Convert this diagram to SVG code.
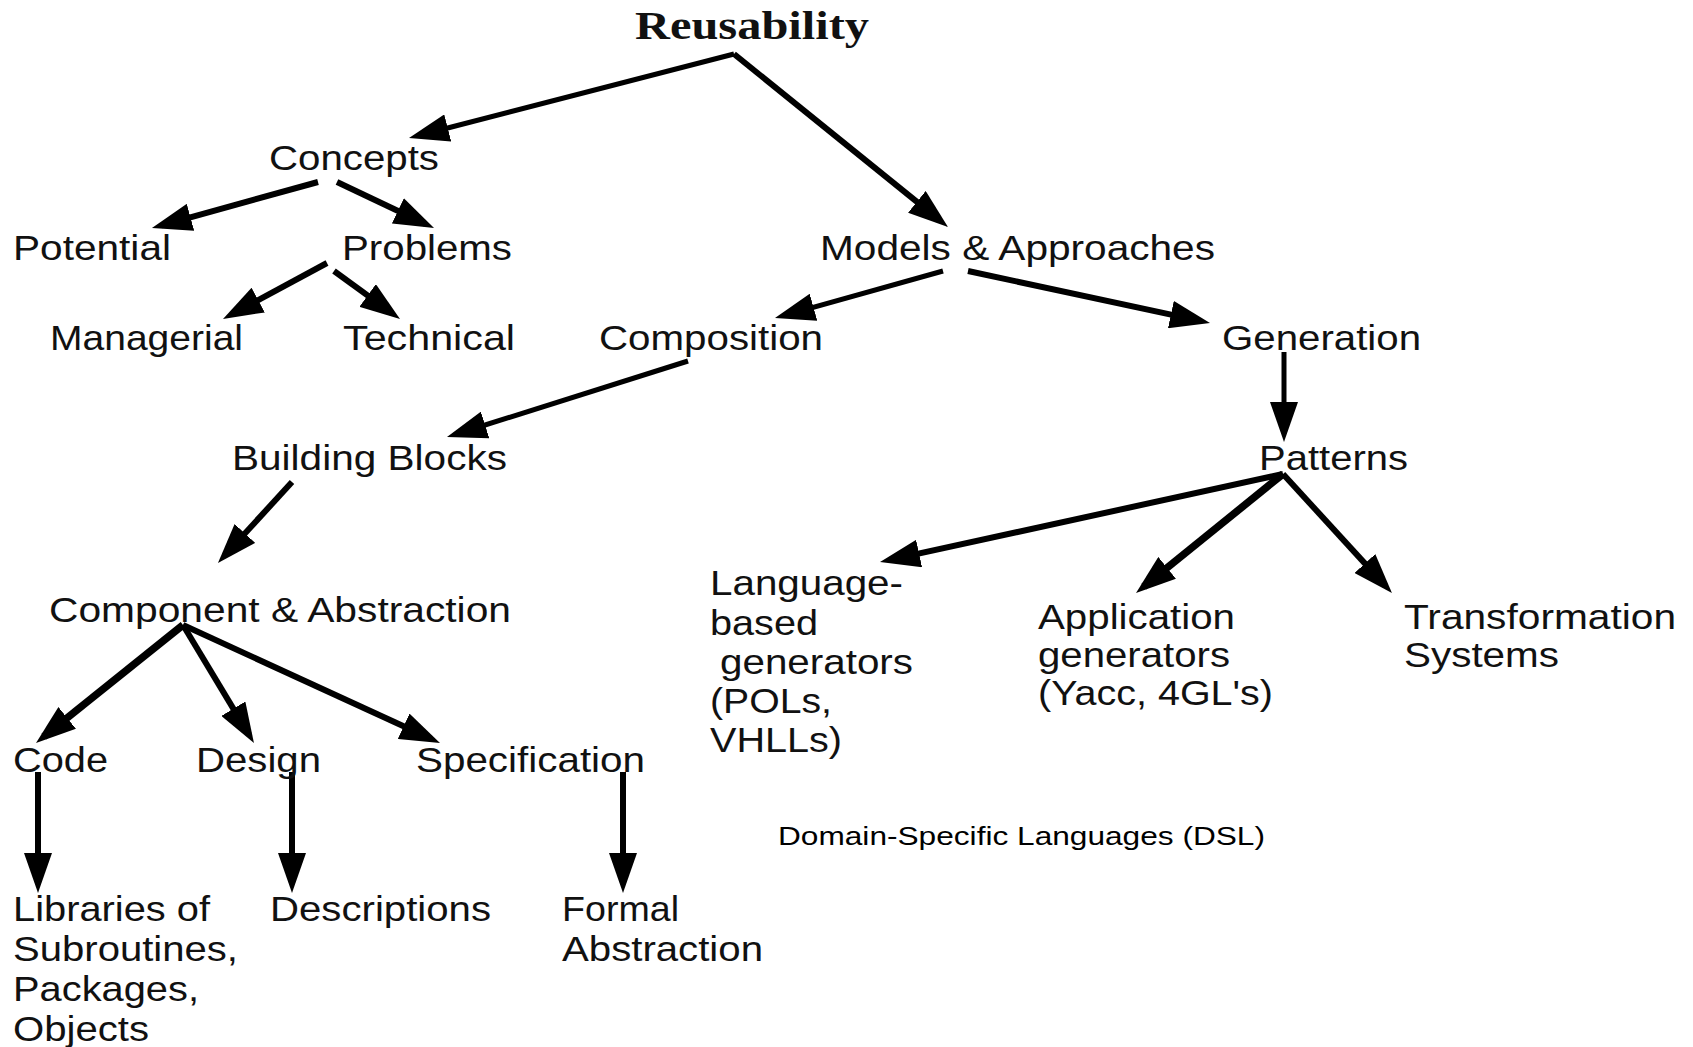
<svg xmlns="http://www.w3.org/2000/svg" width="1693" height="1047" viewBox="0 0 1693 1047">
  <style>
    .lbl { font-family: "Liberation Sans", Arial, Helvetica, sans-serif; font-size: 35px; fill: #111; }
    .title { font-family: "Liberation Serif", "Times New Roman", serif; font-size: 39px; font-weight: bold; fill: #111; }
    .note { font-family: "Liberation Sans", Arial, Helvetica, sans-serif; font-size: 26px; fill: #000; }
    .arr { stroke: #000; fill: none; stroke-linecap: butt; marker-end: url(#head); }
    .w4 { stroke-width: 5; }
    .w5 { stroke-width: 6; }
    .w7 { stroke-width: 7.5; }
  </style>
  <defs>
    <marker id="head" markerUnits="userSpaceOnUse" markerWidth="40" markerHeight="28" viewBox="0 0 40 28" refX="30" refY="14" orient="auto">
      <path d="M0,0 L40,14 L0,28 z" fill="#000"/>
    </marker>
  </defs>
  <rect width="1693" height="1047" fill="#fff"/>

  <!-- connectors: each line stops 10px short of its arrow tip; the marker supplies the point -->
  <g id="connectors">
    <path class="arr w4" d="M734,54 L418.7,135.5"/>
    <path class="arr w5" d="M734,54 L940.2,220.7"/>
    <path class="arr w5" d="M318,182 L161.6,225.3"/>
    <path class="arr w5" d="M337,182 L425,223.7"/>
    <path class="arr w5" d="M327,263 L231.8,314.3"/>
    <path class="arr w5" d="M334,271 L391.9,313.1"/>
    <path class="arr w4" d="M943,271 L784.6,315.3"/>
    <path class="arr w5" d="M968,271 L1200.2,320.9"/>
    <path class="arr w4" d="M688,361 L456.5,434"/>
    <path class="arr w5" d="M292,482 L224.7,555.6"/>
    <path class="arr w7" d="M183,625 L43.8,736.7"/>
    <path class="arr w5" d="M183,625 L248.8,734.4"/>
    <path class="arr w5" d="M183,625 L430.9,738.8"/>
    <path class="arr w5" d="M38,772 L38,883"/>
    <path class="arr w5" d="M292,772 L292,883"/>
    <path class="arr w5" d="M623,772 L623,883"/>
    <path class="arr w4" d="M1284,352 L1284,432"/>
    <path class="arr w5" d="M1283,474 L889.8,559.9"/>
    <path class="arr w7" d="M1283,474 L1143.8,586.7"/>
    <path class="arr w5" d="M1283,474 L1385.2,585.6"/>
  </g>

  <g id="reusability"><text class="title" x="635" y="39" textLength="234" lengthAdjust="spacingAndGlyphs">Reusability</text></g>
  <g id="concepts"><text class="lbl" x="269" y="170" textLength="170" lengthAdjust="spacingAndGlyphs">Concepts</text></g>
  <g id="potential"><text class="lbl" x="13" y="260" textLength="158" lengthAdjust="spacingAndGlyphs">Potential</text></g>
  <g id="problems"><text class="lbl" x="342" y="260" textLength="170" lengthAdjust="spacingAndGlyphs">Problems</text></g>
  <g id="models"><text class="lbl" x="820" y="260" textLength="395" lengthAdjust="spacingAndGlyphs">Models &amp; Approaches</text></g>
  <g id="managerial"><text class="lbl" x="50" y="350" textLength="193" lengthAdjust="spacingAndGlyphs">Managerial</text></g>
  <g id="technical"><text class="lbl" x="343" y="350" textLength="172" lengthAdjust="spacingAndGlyphs">Technical</text></g>
  <g id="composition"><text class="lbl" x="599" y="350" textLength="224" lengthAdjust="spacingAndGlyphs">Composition</text></g>
  <g id="generation"><text class="lbl" x="1222" y="350" textLength="199" lengthAdjust="spacingAndGlyphs">Generation</text></g>
  <g id="building-blocks"><text class="lbl" x="232" y="470" textLength="275" lengthAdjust="spacingAndGlyphs">Building Blocks</text></g>
  <g id="patterns"><text class="lbl" x="1259" y="470" textLength="149" lengthAdjust="spacingAndGlyphs">Patterns</text></g>
  <g id="component-abstraction"><text class="lbl" x="49" y="622" textLength="462" lengthAdjust="spacingAndGlyphs">Component &amp; Abstraction</text></g>

  <g id="language-based">
    <text class="lbl" x="710" y="595" textLength="193" lengthAdjust="spacingAndGlyphs">Language-</text>
    <text class="lbl" x="710" y="635" textLength="108" lengthAdjust="spacingAndGlyphs">based</text>
    <text class="lbl" x="720" y="674" textLength="193" lengthAdjust="spacingAndGlyphs">generators</text>
    <text class="lbl" x="710" y="713" textLength="122" lengthAdjust="spacingAndGlyphs">(POLs,</text>
    <text class="lbl" x="710" y="752" textLength="132" lengthAdjust="spacingAndGlyphs">VHLLs)</text>
  </g>
  <g id="application-generators">
    <text class="lbl" x="1038" y="629" textLength="197" lengthAdjust="spacingAndGlyphs">Application</text>
    <text class="lbl" x="1038" y="667" textLength="192" lengthAdjust="spacingAndGlyphs">generators</text>
    <text class="lbl" x="1038" y="705" textLength="235" lengthAdjust="spacingAndGlyphs">(Yacc, 4GL's)</text>
  </g>
  <g id="transformation-systems">
    <text class="lbl" x="1404" y="629" textLength="272" lengthAdjust="spacingAndGlyphs">Transformation</text>
    <text class="lbl" x="1404" y="667" textLength="155" lengthAdjust="spacingAndGlyphs">Systems</text>
  </g>

  <g id="code"><text class="lbl" x="13" y="772" textLength="95" lengthAdjust="spacingAndGlyphs">Code</text></g>
  <g id="design"><text class="lbl" x="196" y="772" textLength="125" lengthAdjust="spacingAndGlyphs">Design</text></g>
  <g id="specification"><text class="lbl" x="416" y="772" textLength="229" lengthAdjust="spacingAndGlyphs">Specification</text></g>

  <g id="libraries">
    <text class="lbl" x="13" y="921" textLength="197" lengthAdjust="spacingAndGlyphs">Libraries of</text>
    <text class="lbl" x="13" y="961" textLength="225" lengthAdjust="spacingAndGlyphs">Subroutines,</text>
    <text class="lbl" x="13" y="1001" textLength="186" lengthAdjust="spacingAndGlyphs">Packages,</text>
    <text class="lbl" x="13" y="1041" textLength="136" lengthAdjust="spacingAndGlyphs">Objects</text>
  </g>
  <g id="descriptions"><text class="lbl" x="270" y="921" textLength="221" lengthAdjust="spacingAndGlyphs">Descriptions</text></g>
  <g id="formal-abstraction">
    <text class="lbl" x="562" y="921" textLength="117" lengthAdjust="spacingAndGlyphs">Formal</text>
    <text class="lbl" x="562" y="961" textLength="201" lengthAdjust="spacingAndGlyphs">Abstraction</text>
  </g>

  <g id="dsl"><text class="note" x="778" y="845" textLength="487" lengthAdjust="spacingAndGlyphs">Domain-Specific Languages (DSL)</text></g>
</svg>
